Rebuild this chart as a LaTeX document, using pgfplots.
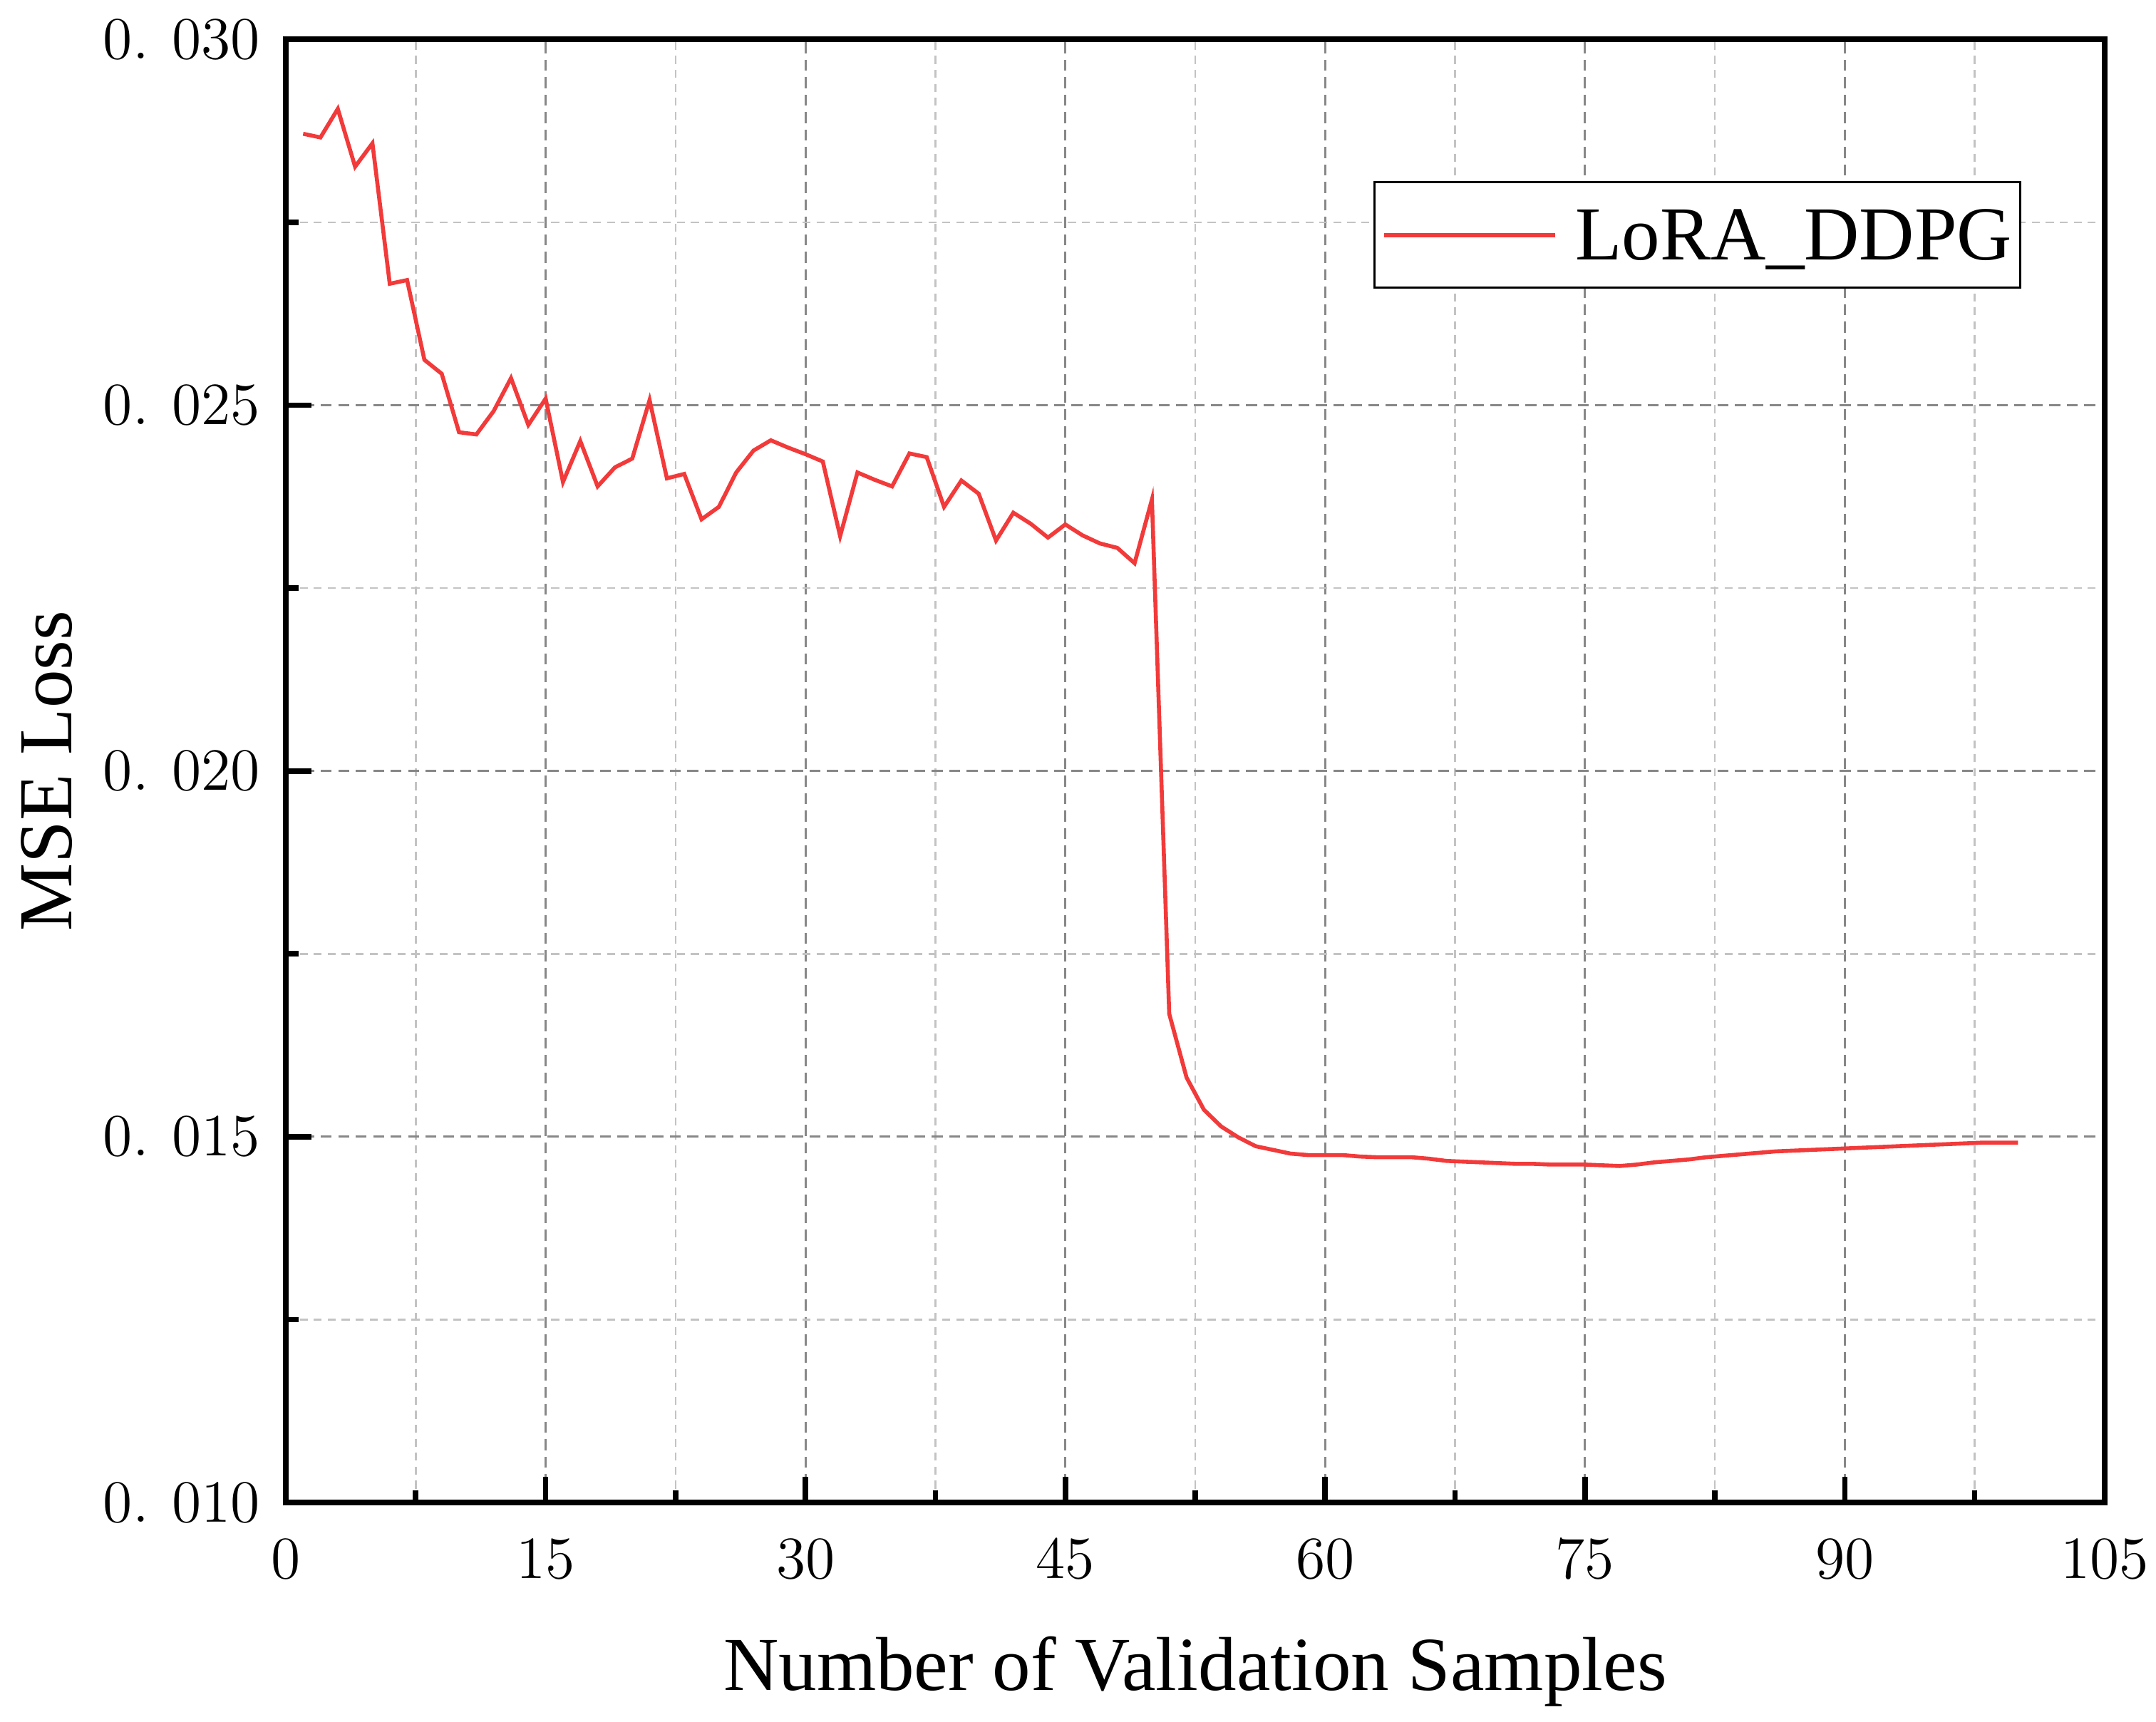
\documentclass[border=0pt]{standalone}
\usepackage{fontspec}
\setmainfont{Liberation Serif}
\usepackage{pgfplots}
\pgfplotsset{compat=1.18}
\definecolor{lred}{RGB}{242,58,58}
\definecolor{majgrid}{RGB}{135,135,135}
\definecolor{mingrid}{RGB}{195,195,195}
\pgfplotstableread{
x y
1 0.02871
2 0.02866
3 0.02905
4 0.02826
5 0.02858
6 0.02666
7 0.02671
8 0.02562
9 0.02543
10 0.02463
11 0.02460
12 0.02492
13 0.02537
14 0.02473
15 0.02509
16 0.02395
17 0.02451
18 0.02389
19 0.02415
20 0.02427
21 0.02507
22 0.02400
23 0.02406
24 0.02344
25 0.02361
26 0.02408
27 0.02438
28 0.02452
29 0.02442
30 0.02433
31 0.02423
32 0.02321
33 0.02408
34 0.02398
35 0.02389
36 0.02434
37 0.02429
38 0.02361
39 0.02397
40 0.02379
41 0.02315
42 0.02353
43 0.02338
44 0.02319
45 0.02337
46 0.02322
47 0.02311
48 0.02305
49 0.02284
50 0.02371
51 0.01668
52 0.01581
53 0.01537
54 0.01514
55 0.01499
56 0.01487
57 0.01482
58 0.01477
59 0.01475
60 0.01475
61 0.01475
62 0.01473
63 0.01472
64 0.01472
65 0.01472
66 0.01470
67 0.01467
68 0.01466
69 0.01465
70 0.01464
71 0.01463
72 0.01463
73 0.01462
74 0.01462
75 0.01462
76 0.01461
77 0.01460
78 0.01462
79 0.01465
80 0.01467
81 0.01469
82 0.01472
83 0.01474
84 0.01476
85 0.01478
86 0.01480
87 0.01481
88 0.01482
89 0.01483
90 0.01484
91 0.01485
92 0.01486
93 0.01487
94 0.01488
95 0.01489
96 0.01490
97 0.01491
98 0.01492
99 0.01492
100 0.01492
}\lossdata
\begin{document}
\begin{tikzpicture}
\begin{axis}[
  scale only axis,
  width=364.6pt, height=293.3pt,
  xmin=0, xmax=105, ymin=0.010, ymax=0.030,
  xtick={0,15,...,105},
  ytick={0.010,0.015,0.020,0.025,0.030},
  yticklabels={$0.\hspace{4.6pt}010$,$0.\hspace{4.6pt}015$,$0.\hspace{4.6pt}020$,$0.\hspace{4.6pt}025$,$0.\hspace{4.6pt}030$},
  scaled y ticks=false,
  minor x tick num=1, minor y tick num=1,
  tick align=inside, xtick pos=bottom, ytick pos=left,
  major tick length=5.2pt, minor tick length=2.5pt,
  every tick/.style={black, line width=1.1pt},
  axis line style={line width=1.1pt, black},
  grid=both,
  major grid style={majgrid, line width=0.45pt, dash pattern=on 2.2pt off 1.3pt},
  minor grid style={mingrid, line width=0.35pt, dash pattern=on 1.6pt off 1.2pt},
  tick label style={font=\fontsize{12.9}{14}\selectfont},
  xticklabel style={yshift=-4pt},
  yticklabel style={xshift=-1.7pt},
  xlabel={Number of Validation Samples},
  ylabel={MSE Loss},
  every axis x label/.style={at={(axis description cs:0.5,0)}, anchor=base, yshift=-37.6pt, font=\fontsize{15.3}{17}\selectfont},
  every axis y label/.style={at={(axis description cs:-0.1179,0.5)}, anchor=base, rotate=90, font=\fontsize{15.3}{17}\selectfont},
  legend style={at={(axis description cs:0.9542,0.9031)}, anchor=north east,
    draw=black, line width=0.45pt, inner xsep=1.6pt, inner ysep=0pt,
    font=\fontsize{15.3}{17}\selectfont,
    nodes={inner xsep=0pt, inner ysep=0pt, text height=15.57pt, text depth=5.57pt},
    column sep=3.6pt},
  legend image code/.code={\draw[#1] (0pt,0pt) -- (34.3pt,0pt);},
]
\addplot[lred, line width=0.8pt] table[x=x,y=y] {\lossdata};
\addlegendentry{LoRA\_DDPG}
\end{axis}
\pgfresetboundingbox
\path ([shift={(-57.3pt,-43.9pt)}]current axis.south west) rectangle ([shift={(10.3pt,7.9pt)}]current axis.north east);
\end{tikzpicture}
\end{document}
